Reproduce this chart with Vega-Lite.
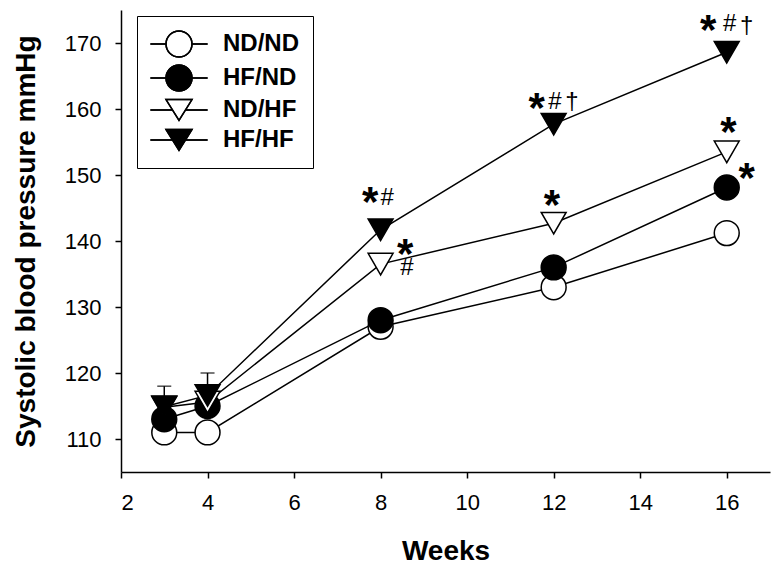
{
  "$schema": "https://vega.github.io/schema/vega-lite/v6.json",
  "width": 649,
  "height": 462,
  "autosize": {"type": "none"},
  "padding": {"left": 121, "top": 10, "right": 12, "bottom": 102},
  "background": "white",
  "config": {
    "view": {"stroke": null},
    "font": "Liberation Sans",
    "axis": {
      "grid": false,
      "domainColor": "black",
      "domainWidth": 1.5,
      "tickColor": "black",
      "tickWidth": 1.5,
      "tickSize": 6,
      "labelFont": "Liberation Sans",
      "labelFontSize": 22,
      "labelColor": "black",
      "titleFont": "Liberation Sans",
      "titleFontSize": 28,
      "titleFontWeight": "bold",
      "titleColor": "black"
    }
  },
  "datasets": {
    "pts": [
      {"week": 3, "group": "ND/ND", "value": 111},
      {"week": 4, "group": "ND/ND", "value": 111},
      {"week": 8, "group": "ND/ND", "value": 127},
      {"week": 12, "group": "ND/ND", "value": 133},
      {"week": 16, "group": "ND/ND", "value": 141.2},
      {"week": 3, "group": "HF/ND", "value": 113},
      {"week": 4, "group": "HF/ND", "value": 115},
      {"week": 8, "group": "HF/ND", "value": 128},
      {"week": 12, "group": "HF/ND", "value": 136},
      {"week": 16, "group": "HF/ND", "value": 148.1},
      {"week": 3, "group": "ND/HF", "value": 114.8},
      {"week": 4, "group": "ND/HF", "value": 115.6},
      {"week": 8, "group": "ND/HF", "value": 136.5},
      {"week": 12, "group": "ND/HF", "value": 142.7},
      {"week": 16, "group": "ND/HF", "value": 153.5},
      {"week": 3, "group": "HF/HF", "value": 114.9},
      {"week": 4, "group": "HF/HF", "value": 116.6},
      {"week": 8, "group": "HF/HF", "value": 141.7},
      {"week": 12, "group": "HF/HF", "value": 157.7},
      {"week": 16, "group": "HF/HF", "value": 168.6}
    ],
    "legendrows": [
      {"series": "ND/ND"},
      {"series": "HF/ND"},
      {"series": "ND/HF"},
      {"series": "HF/HF"}
    ],
    "errs": [
      {"week": 3, "group": "HF/HF", "value": 114.9, "upper": 118},
      {"week": 4, "group": "HF/HF", "value": 116.6, "upper": 120}
    ],
    "stars": [
      {"week": 7.76, "value": 146.8, "label": "*"},
      {"week": 8.57, "value": 139.0, "label": "*"},
      {"week": 11.61, "value": 161.0, "label": "*"},
      {"week": 11.96, "value": 146.3, "label": "*"},
      {"week": 15.57, "value": 172.9, "label": "*"},
      {"week": 16.04, "value": 157.4, "label": "*"},
      {"week": 16.46, "value": 150.5, "label": "*"}
    ],
    "marks": [
      {"week": 8.15, "value": 146.5, "label": "#"},
      {"week": 8.61, "value": 135.9, "label": "#"},
      {"week": 12.03, "value": 161.1, "label": "#"},
      {"week": 12.42, "value": 161.0, "label": "†"},
      {"week": 16.07, "value": 172.9, "label": "#"},
      {"week": 16.46, "value": 172.6, "label": "†"}
    ]
  },
  "encoding": {
    "x": {
      "field": "week",
      "type": "quantitative",
      "scale": {"domain": [2, 17], "nice": false, "zero": false},
      "axis": {"values": [2, 4, 6, 8, 10, 12, 14, 16], "title": "Weeks", "labelPadding": 14, "titlePadding": 24}
    },
    "y": {
      "field": "value",
      "type": "quantitative",
      "scale": {"domain": [105, 175], "nice": false, "zero": false},
      "axis": {"values": [110, 120, 130, 140, 150, 160, 170], "title": "Systolic blood pressure mmHg", "labelPadding": 14, "titlePadding": 24}
    }
  },
  "resolve": {"scale": {"shape": "independent"}, "legend": {"shape": "independent"}},
  "layer": [
    {
      "data": {"name": "errs"},
      "mark": {"type": "errorbar", "ticks": {"size": 14, "thickness": 1.5, "color": "black"}, "rule": {"strokeWidth": 1.5, "color": "black"}},
      "encoding": {
        "y": {"field": "upper", "type": "quantitative"},
        "y2": {"field": "value"}
      }
    },
    {
      "data": {"name": "pts"},
      "mark": {"type": "line", "stroke": "black", "strokeWidth": 1.5},
      "encoding": {
        "detail": {"field": "group"},
        "order": {"field": "week"}
      }
    },
    {
      "data": {"name": "pts"},
      "mark": {"type": "point", "size": 620, "stroke": "black", "strokeWidth": 1.5, "opacity": 1},
      "encoding": {
        "shape": {
          "field": "group",
          "type": "nominal",
          "scale": {"domain": ["ND/ND", "HF/ND", "ND/HF", "HF/HF"], "range": ["circle", "circle", "triangle-down", "triangle-down"]},
          "legend": null
        },
        "fill": {
          "field": "group",
          "type": "nominal",
          "scale": {"domain": ["ND/ND", "HF/ND", "ND/HF", "HF/HF"], "range": ["white", "black", "white", "black"]},
          "legend": null
        }
      }
    },
    {
      "data": {"name": "legendrows"},
      "mark": {"type": "point", "size": 676, "stroke": "black", "strokeWidth": 1.5, "opacity": 1, "fill": {"expr": "(datum.value === 'ND/ND' || datum.value === 'ND/HF' || datum.series === 'ND/ND' || datum.series === 'ND/HF') ? 'white' : 'black'"}},
      "encoding": {
        "shape": {
          "field": "series",
          "type": "nominal",
          "scale": {"domain": ["ND/ND", "HF/ND", "ND/HF", "HF/HF"], "range": ["M-2.2,0H-1M1,0H2.2M-1,0A1,1,0,1,0,1,0A1,1,0,1,0,-1,0Z", "M-2.2,0H-1M1,0H2.2M-1,0A1,1,0,1,0,1,0A1,1,0,1,0,-1,0Z", "M-2.2,0H-0.5M0.5,0H2.2M-1,-0.8L1,-0.8L0,0.8Z", "M-2.2,0H-0.5M0.5,0H2.2M-1,-0.8L1,-0.8L0,0.8Z"]},
          "legend": {
            "title": null,
            "orient": "none",
            "legendX": 16,
            "legendY": 6,
            "padding": 14,
            "strokeColor": null,
            "symbolSize": 676,
            "symbolOpacity": 1,
            "symbolOffset": 14,
            "symbolStrokeWidth": 1.5,
            "labelOffset": 30,
            "labelFont": "Liberation Sans",
            "labelFontSize": 24,
            "labelFontWeight": "bold",
            "labelColor": "black",
            "labelOpacity": 0,
            "rowPadding": 2
          }
        }
      }
    },
    {
      "data": {"name": "legendrows"},
      "mark": {"type": "point", "size": 676, "stroke": "black", "strokeWidth": 1.5, "opacity": 1},
      "encoding": {
        "shape": {
          "field": "series",
          "type": "nominal",
          "scale": {"domain": ["ND/ND", "HF/ND", "ND/HF", "HF/HF"], "range": ["M-2.2,0H-1M1,0H2.2M-1,0A1,1,0,1,0,1,0A1,1,0,1,0,-1,0Z", "M-2.2,0H-1M1,0H2.2M-1,0A1,1,0,1,0,1,0A1,1,0,1,0,-1,0Z", "M-2.2,0H-0.5M0.5,0H2.2M-1,-0.8L1,-0.8L0,0.8Z", "M-2.2,0H-0.5M0.5,0H2.2M-1,-0.8L1,-0.8L0,0.8Z"]},
          "legend": {
            "title": null,
            "orient": "none",
            "legendX": 16,
            "legendY": 6,
            "padding": 14,
            "strokeColor": "black",
            "symbolSize": 676,
            "symbolOpacity": 1,
            "symbolOffset": 14,
            "symbolStrokeColor": "black",
            "symbolStrokeWidth": 1.5,
            "labelOffset": 30,
            "labelFont": "Liberation Sans",
            "labelFontSize": 24,
            "labelFontWeight": "bold",
            "labelColor": "black",
            "rowPadding": 2
          }
        }
      }
    },
    {
      "data": {"name": "stars"},
      "mark": {"type": "text", "fontSize": 42, "fontWeight": "bold", "align": "center", "baseline": "middle", "dy": 7, "color": "black"},
      "encoding": {"text": {"field": "label"}}
    },
    {
      "data": {"name": "marks"},
      "mark": {"type": "text", "fontSize": 24, "align": "center", "baseline": "middle", "color": "black"},
      "encoding": {"text": {"field": "label"}}
    }
  ]
}
